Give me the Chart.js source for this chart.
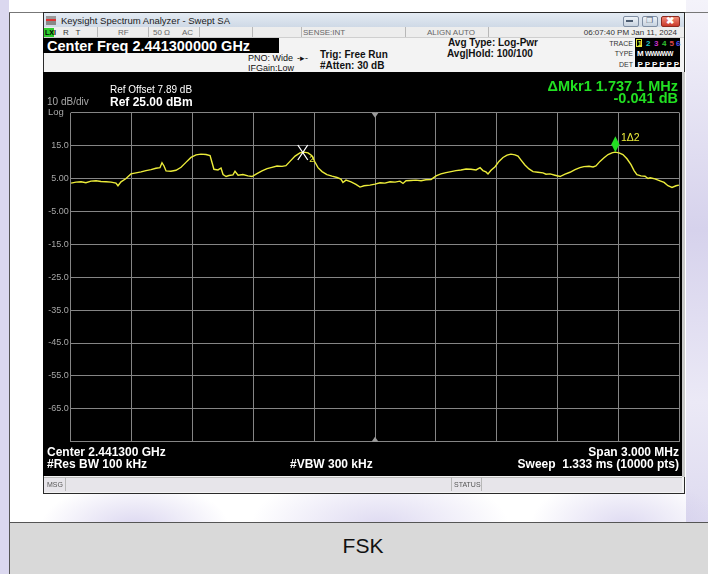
<!DOCTYPE html>
<html>
<head>
<meta charset="utf-8">
<script src="https://cdn.jsdelivr.net/npm/chart.js@4.4.1/dist/chart.umd.min.js"></script>
<style>
html, body { margin: 0; padding: 0; }
body {
    width: 708px; height: 574px; position: relative; overflow: hidden;
    background: #ffffff;
    font-family: 'Liberation Sans', Arial, sans-serif;
}
.a { position: absolute; white-space: nowrap; line-height: 1; }
.wm { position: absolute; border-radius: 50%; }
#win { position: absolute; left: 43px; top: 12px; width: 642px; height: 482px; background: #f3f3f3; border: 1px solid #2a2a2a; box-sizing: border-box; }
#titlebar { position: absolute; left: 44px; top: 13px; width: 640px; height: 14px; background: linear-gradient(#e4ebf3, #cfd9e6); }
#status { position: absolute; left: 44px; top: 27px; width: 640px; height: 10px; background: #ededed; border-bottom: 1px solid #cfcfcf; }
#display { position: absolute; left: 43px; top: 72px; width: 639px; height: 404px; background: #000; }
#msg { position: absolute; left: 44px; top: 477px; width: 638px; height: 14px; background: #e7e5ea; border-top: 1px solid #bdbdbd; }
.sep { position: absolute; width: 1px; background: #b8b8b8; }
.btn { position: absolute; top: 16px; height: 9px; border: 1px solid #7f8ea3; border-radius: 2px; background: linear-gradient(#eef3f8, #c7d2df); }
.g { color: #22e022; font-weight: bold; font-size: 14.5px; }
.w { color: #fff; font-weight: bold; font-size: 12px; }
.hd { color: #111; font-size: 9px; }
.hb { color: #111; font-size: 10px; font-weight: bold; }
.st { color: #666; font-size: 8px; }
.td { color: #fff; font-size: 8px; font-weight: bold; }
</style>
</head>
<body>
<!-- faint watermark behind the screenshot -->
<div class="a" style="left:0;top:0;width:9px;height:574px;background:#dbd8ef;"></div>
<div class="a" style="left:686px;top:0;width:22px;height:574px;background:linear-gradient(#f4f3fa,#d6d2ec 40%,#ebe9f6 70%,#d8d4ed);"></div>
<div class="wm" style="left:40px;top:482px;width:190px;height:90px;background:radial-gradient(rgba(190,182,228,0.55),rgba(190,182,228,0) 70%);"></div>
<div class="wm" style="left:250px;top:470px;width:260px;height:110px;background:radial-gradient(rgba(190,182,228,0.5),rgba(190,182,228,0) 70%);"></div>
<div class="wm" style="left:530px;top:475px;width:190px;height:100px;background:radial-gradient(rgba(190,182,228,0.5),rgba(190,182,228,0) 70%);"></div>
<div class="a" style="left:9px;top:12px;width:1px;height:562px;background:#555;"></div>
<div class="a" style="left:9px;top:12px;width:699px;height:1px;background:#777;"></div>

<!-- analyzer window -->
<div id="win"></div>
<div id="titlebar"></div>
<div class="a" style="left:46px;top:16px;width:10px;height:9px;background:linear-gradient(#9a9a9a 0 30%,#d33 30% 60%,#888 60%);"></div>
<div class="a" style="left:61px;top:16px;font-size:9.5px;color:#1b1b1b;">Keysight Spectrum Analyzer - Swept SA</div>
<div class="btn" style="left:623px;width:14px;"></div>
<div class="btn" style="left:642px;width:14px;"></div>
<div class="btn" style="left:661px;width:17px;background:linear-gradient(#f08a78,#c9392a);border-color:#8b2a20;"></div>
<div class="a" style="left:626px;top:20px;width:7px;height:2px;background:#4b5b70;"></div>
<div class="a" style="left:646px;top:17px;font-size:8px;color:#4b5b70;">&#x2750;</div>
<div class="a" style="left:666px;top:16px;font-size:10px;font-weight:bold;color:#fff;">&#x2716;</div>

<div id="status"></div>
<div class="a" style="left:44px;top:28px;width:10px;height:9px;background:#2ecc2e;"></div>
<div class="a st" style="left:45px;top:29px;color:#000;font-weight:bold;font-size:7px;">LXI</div>
<div class="a st" style="left:63px;top:28.5px;color:#333;">R&nbsp;&nbsp;&nbsp;T</div>
<div class="sep" style="left:97px;top:27px;height:10px;"></div>
<div class="a st" style="left:118px;top:28.5px;">RF</div>
<div class="sep" style="left:148px;top:27px;height:10px;"></div>
<div class="a st" style="left:153px;top:28.5px;">50 &#x3A9;</div>
<div class="a st" style="left:182px;top:28.5px;">AC</div>
<div class="sep" style="left:199px;top:27px;height:10px;"></div>
<div class="sep" style="left:252px;top:27px;height:10px;"></div>
<div class="sep" style="left:301px;top:27px;height:10px;"></div>
<div class="a st" style="left:303px;top:28.5px;">SENSE:INT</div>
<div class="sep" style="left:405px;top:27px;height:10px;"></div>
<div class="a st" style="left:427px;top:28.5px;">ALIGN AUTO</div>
<div class="sep" style="left:488px;top:27px;height:10px;"></div>
<div class="a st" style="right:31px;top:28.5px;color:#333;">06:07:40 PM Jan 11, 2024</div>

<div class="a" style="left:43px;top:38px;width:236px;height:15px;background:#000;"></div>
<div class="a" style="left:47px;top:39px;color:#fff;font-weight:bold;font-size:14.5px;">Center Freq 2.441300000 GHz</div>
<div class="a hd" style="left:248px;top:54px;">PNO: Wide</div>
<div class="a hd" style="left:248px;top:64px;">IFGain:Low</div>
<div class="a hd" style="left:297px;top:53.5px;">-&#x25B8;-</div>
<div class="a hb" style="left:320px;top:50.3px;">Trig: Free Run</div>
<div class="a hb" style="left:320px;top:60.6px;">#Atten: 30 dB</div>
<div class="a hb" style="left:448px;top:38.4px;">Avg Type: Log-Pwr</div>
<div class="a hb" style="left:447px;top:49.4px;">Avg|Hold: 100/100</div>
<div class="a" style="right:75px;top:39.6px;font-size:7px;color:#333;">TRACE</div>
<div class="a" style="right:75px;top:50px;font-size:7px;color:#333;">TYPE</div>
<div class="a" style="right:75px;top:60.6px;font-size:7px;color:#333;">DET</div>
<div class="a" style="left:635px;top:38px;width:45px;height:29px;background:#000;"></div>
<div class="a" style="left:636px;top:39px;width:6px;height:8px;border:1px solid #e8e838;box-sizing:border-box;"></div>
<div class="a td" style="left:637.5px;top:39.5px;color:#e8e838;">1</div>
<div class="a td" style="left:646px;top:39.5px;color:#20c8c8;">2</div>
<div class="a td" style="left:654px;top:39.5px;color:#c830c8;">3</div>
<div class="a td" style="left:662px;top:39.5px;color:#30c030;">4</div>
<div class="a td" style="left:669.5px;top:39.5px;color:#e04848;">5</div>
<div class="a td" style="left:676px;top:39.5px;color:#5050f0;">6</div>
<div class="a td" style="left:637px;top:50px;">M</div>
<div class="a td" style="left:645px;top:50.5px;font-size:6.5px;letter-spacing:-0.6px;">WWWWW</div>
<div class="a td" style="left:637.5px;top:60.5px;letter-spacing:1.9px;">PPPPPP</div>

<div id="display"><canvas id="specChart" width="639" height="403"></canvas></div>
<div class="a" style="left:682px;top:72px;width:3px;height:405px;background:#c9c9c9;"></div>

<div class="a" style="left:110px;top:85px;color:#fff;font-size:10px;">Ref Offset 7.89 dB</div>
<div class="a w" style="left:110px;top:95.8px;">Ref 25.00 dBm</div>
<div class="a" style="left:47px;top:97px;color:#a8a8a8;font-size:10px;">10 dB/div</div>
<div class="a" style="left:48px;top:106.5px;color:#a8a8a8;font-size:9.5px;">Log</div>
<div class="a g" style="right:30px;top:79px;">&#x394;Mkr1 1.737 1 MHz</div>
<div class="a g" style="right:30px;top:90.5px;">-0.041 dB</div>

<div class="a w" style="left:47px;top:445.8px;">Center 2.441300 GHz</div>
<div class="a w" style="left:47px;top:458.3px;">#Res BW 100 kHz</div>
<div class="a w" style="left:290px;top:458.3px;">#VBW 300 kHz</div>
<div class="a w" style="right:29px;top:445.8px;">Span 3.000 MHz</div>
<div class="a w" style="right:29px;top:458.3px;">Sweep&nbsp; 1.333 ms (10000 pts)</div>

<div id="msg"></div>
<div class="a" style="left:47px;top:480.5px;font-size:7px;color:#555;">MSG</div>
<div class="sep" style="left:65px;top:477px;height:14px;"></div>
<div class="sep" style="left:451px;top:477px;height:14px;"></div>
<div class="a" style="left:454px;top:480.5px;font-size:7px;color:#555;">STATUS</div>
<div class="sep" style="left:481px;top:477px;height:14px;"></div>

<!-- caption cell -->
<div class="a" style="left:9px;top:522px;width:699px;height:52px;background:#d9d9d9;border-top:1px solid #555;"></div>
<div class="a" style="left:9px;top:522px;width:1px;height:52px;background:#555;"></div>
<div class="a" style="left:313px;top:535px;width:100px;text-align:center;font-size:21px;color:#111;">FSK</div>

<script>
// swept trace, offset from center frequency (MHz) and level (dBm)
const freqMHz = [
    -1.498, -1.474, -1.449, -1.425, -1.400, -1.375, -1.351, -1.326, -1.301, -1.277,
    -1.267, -1.252, -1.227, -1.203, -1.178, -1.153, -1.129, -1.104, -1.080, -1.060,
    -1.050, -1.040, -1.030, -1.006, -0.981, -0.956, -0.932, -0.907, -0.882, -0.858,
    -0.833, -0.813, -0.803, -0.794, -0.774, -0.759, -0.749, -0.734, -0.720, -0.700,
    -0.690, -0.675, -0.651, -0.626, -0.606, -0.582, -0.557, -0.532, -0.508, -0.483,
    -0.458, -0.439, -0.419, -0.394, -0.370, -0.350, -0.330, -0.311, -0.296, -0.281,
    -0.261, -0.237, -0.212, -0.187, -0.168, -0.158, -0.143, -0.118, -0.094, -0.074,
    -0.054, -0.025, 0.000, 0.025, 0.049, 0.074, 0.099, 0.123, 0.138, 0.153,
    0.177, 0.202, 0.227, 0.251, 0.276, 0.301, 0.325, 0.350, 0.375, 0.399,
    0.424, 0.449, 0.473, 0.498, 0.518, 0.532, 0.547, 0.557, 0.572, 0.592,
    0.611, 0.631, 0.651, 0.670, 0.690, 0.705, 0.720, 0.739, 0.759, 0.779,
    0.803, 0.828, 0.843, 0.863, 0.887, 0.912, 0.937, 0.961, 0.986, 1.010,
    1.030, 1.055, 1.075, 1.089, 1.109, 1.129, 1.149, 1.168, 1.183, 1.203,
    1.222, 1.242, 1.262, 1.277, 1.291, 1.311, 1.331, 1.346, 1.356, 1.380,
    1.405, 1.425, 1.444, 1.464, 1.484, 1.498
];
const levelDbm = [
    3.6, 3.9, 4.0, 3.7, 4.2, 4.3, 4.1, 4.0, 3.9, 3.6,
    2.8, 4.0, 5.0, 6.4, 6.7, 7.0, 7.4, 7.7, 8.1, 8.3,
    9.8, 8.8, 7.3, 7.2, 7.5, 8.4, 9.9, 11.4, 12.2, 12.4,
    12.3, 12.0, 9.8, 7.8, 7.6, 8.2, 6.2, 5.6, 5.9, 6.1,
    7.2, 6.0, 6.2, 5.8, 5.6, 6.5, 7.3, 8.0, 8.4, 8.8,
    8.7, 8.9, 10.2, 11.8, 12.8, 13.0, 12.8, 11.9, 10.0, 8.3,
    7.1, 6.2, 5.7, 5.3, 4.8, 3.8, 4.5, 4.0, 3.2, 2.4,
    2.8, 3.0, 3.3, 3.7, 3.6, 4.0, 3.9, 4.2, 3.5, 4.3,
    4.4, 4.5, 4.3, 4.6, 4.7, 5.8, 6.4, 6.8, 7.1, 7.4,
    7.6, 7.9, 7.8, 7.6, 8.3, 7.4, 7.0, 6.4, 7.5, 8.6,
    10.2, 11.4, 12.1, 12.4, 12.2, 11.8, 10.6, 9.1, 7.9, 7.1,
    6.9, 6.7, 6.3, 6.4, 6.0, 5.6, 6.3, 6.9, 7.7, 8.3,
    8.6, 8.7, 8.5, 8.8, 10.2, 11.3, 12.3, 12.8, 13.0, 12.8,
    12.3, 11.0, 9.2, 7.4, 6.2, 5.8, 5.7, 5.0, 5.2, 4.9,
    4.3, 3.8, 2.8, 2.3, 2.8, 3.0
];

const yTickValues = [25, 15, 5, -5, -15, -25, -35, -45, -55, -65, -75];
const yTickLabels = ['', '15.0', '5.00', '-5.00', '-15.0', '-25.0', '-35.0', '-45.0', '-55.0', '-65.0', ''];

// markers: Mkr1 (delta, diamond) and Mkr2 (reference, X)
const markerFreqs = [1.185, -0.356];
const markerLevels = [13.0, 12.9];
const markerLabels = ['1\u03942', '2'];

const traceColor = '#ecec3a';

const markerPlugin = {
    id: 'markers',
    afterDatasetsDraw(chart) {
        const { ctx, chartArea } = chart;
        const xs = chart.scales.x;
        const ys = chart.scales.y;
        ctx.save();

        // center frequency ticks, top and bottom
        const cx = xs.getPixelForValue(0);
        ctx.fillStyle = '#9a9a9a';
        ctx.beginPath();
        ctx.moveTo(cx - 3.5, chartArea.top);
        ctx.lineTo(cx + 3.5, chartArea.top);
        ctx.lineTo(cx, chartArea.top + 5);
        ctx.fill();
        ctx.beginPath();
        ctx.moveTo(cx - 3.5, chartArea.bottom);
        ctx.lineTo(cx + 3.5, chartArea.bottom);
        ctx.lineTo(cx, chartArea.bottom - 5);
        ctx.fill();

        // Mkr2: white X with subscript
        const x2 = xs.getPixelForValue(markerFreqs[1]);
        const y2 = ys.getPixelForValue(markerLevels[1]);
        ctx.strokeStyle = '#ffffff';
        ctx.lineWidth = 1.3;
        ctx.beginPath();
        ctx.moveTo(x2 - 5, y2 - 7.5);
        ctx.lineTo(x2 + 5, y2 + 7.5);
        ctx.moveTo(x2 + 5, y2 - 7.5);
        ctx.lineTo(x2 - 5, y2 + 7.5);
        ctx.stroke();
        ctx.fillStyle = traceColor;
        ctx.font = '9px "Liberation Sans"';
        ctx.textBaseline = 'alphabetic';
        ctx.fillText(markerLabels[1], x2 + 6.5, y2 + 9);

        // Mkr1: green diamond sitting on the trace
        const x1 = xs.getPixelForValue(markerFreqs[0]);
        const y1 = ys.getPixelForValue(markerLevels[0]);
        ctx.fillStyle = '#22e022';
        ctx.beginPath();
        ctx.moveTo(x1, y1 - 16);
        ctx.lineTo(x1 + 4, y1 - 8);
        ctx.lineTo(x1, y1);
        ctx.lineTo(x1 - 4, y1 - 8);
        ctx.closePath();
        ctx.fill();
        ctx.fillStyle = traceColor;
        ctx.font = '10.5px "Liberation Sans"';
        ctx.fillText(markerLabels[0], x1 + 5.5, y1 - 11.5);

        ctx.restore();
    }
};

const canvas = document.getElementById('specChart');
const tracePoints = freqMHz.map((f, i) => ({ x: f, y: levelDbm[i] }));

new Chart(canvas, {
    type: 'line',
    data: {
        datasets: [{
            data: tracePoints,
            borderColor: traceColor,
            borderWidth: 1.4,
            pointRadius: 0,
            tension: 0,
            fill: false
        }]
    },
    options: {
        responsive: false,
        animation: false,
        layout: {
            padding: { top: 40.7, right: 2.7, bottom: 33.3, left: 0 }
        },
        plugins: {
            legend: { display: false },
            tooltip: { enabled: false }
        },
        scales: {
            x: {
                type: 'linear',
                min: -1.5,
                max: 1.5,
                ticks: { display: false, stepSize: 0.3 },
                grid: { color: '#858585', lineWidth: 1, drawTicks: false },
                border: { display: false },
                afterFit: (scale) => { scale.height = 0; }
            },
            y: {
                min: -75,
                max: 25,
                ticks: {
                    stepSize: 10,
                    color: '#a6a6a6',
                    padding: 2,
                    font: { family: 'Liberation Sans', size: 9 },
                    callback: function(value) {
                        const i = yTickValues.indexOf(value);
                        return i >= 0 ? yTickLabels[i] : '';
                    }
                },
                grid: { color: '#858585', lineWidth: 1, drawTicks: false },
                border: { display: false },
                afterFit: (scale) => { scale.width = 27.7; }
            }
        }
    },
    plugins: [markerPlugin]
});
</script>
</body>
</html>
